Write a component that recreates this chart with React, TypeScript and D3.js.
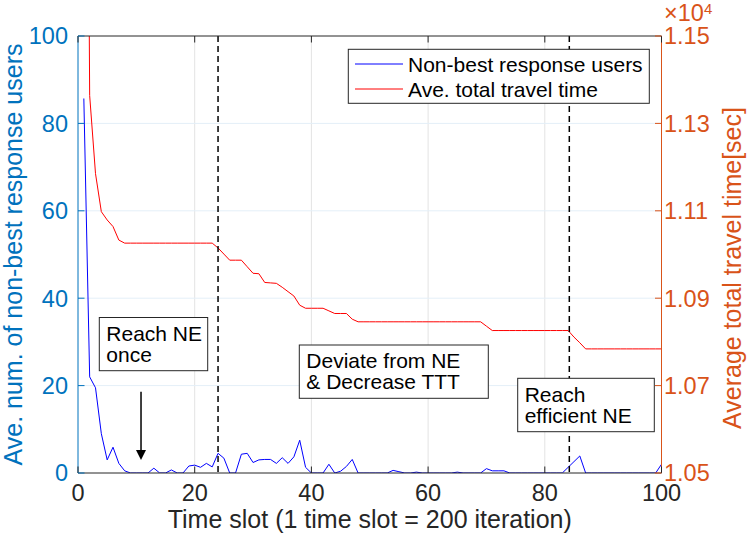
import React from 'react';
import * as d3 from 'd3';

// ---------- data ----------
const timeSlots: number[] = d3.range(1, 101);

const nonBestUsers: number[] = [
  85.7, 22.0, 19.5, 9.0, 3.0, 5.9, 2.2, 0.5, 0, 0,
  0, 0, 1.1, 0, 0, 0.7, 0, 0, 1.6, 1.8,
  1.3, 2.2, 1.4, 4.5, 3.4, 0, 0, 4.3, 4.5, 2.4,
  3.0, 3.1, 3.1, 2.2, 3.5, 2.2, 3.7, 7.5, 1.3, 0,
  0, 0, 2.0, 0, 0.4, 1.5, 3.1, 0, 0, 0,
  0, 0, 0, 0.6, 0.3, 0, 0, 0.2, 0, 0,
  0, 0, 0, 0, 0.2, 0, 0, 0, 0, 1.0,
  0.5, 0.5, 0.5, 0, 0, 0, 0, 0, 0, 0,
  0, 0, 0, 1.3, 2.6, 3.9, 0, 0, 0, 0,
  0, 0, 0, 0, 0, 0, 0, 0, 0, 2.0,
];

const aveTravelTime: number[] = [
  13500, 11364, 11185, 11098, 11079, 11064, 11033, 11026, 11026, 11026,
  11026, 11026, 11026, 11026, 11026, 11026, 11026, 11026, 11026, 11026,
  11026, 11026, 11026, 11015, 11001, 10987, 10987, 10987, 10972, 10957,
  10956, 10936, 10935, 10934, 10925, 10915, 10905, 10884, 10877, 10877,
  10877, 10877, 10871, 10865, 10865, 10865, 10852, 10846, 10846, 10846,
  10846, 10846, 10846, 10846, 10846, 10846, 10846, 10846, 10846, 10846,
  10846, 10846, 10846, 10846, 10846, 10846, 10846, 10846, 10846, 10836,
  10826, 10826, 10826, 10826, 10826, 10826, 10826, 10826, 10826, 10826,
  10826, 10826, 10826, 10826, 10811, 10798, 10784, 10784, 10784, 10784,
  10784, 10784, 10784, 10784, 10784, 10784, 10784, 10784, 10784, 10784,
];

const xTicks = [0, 20, 40, 60, 80, 100];
const leftTicks = [0, 20, 40, 60, 80, 100];
const rightTicks = [10500, 10700, 10900, 11100, 11300, 11500];
const rightTickLabels = ['1.05', '1.07', '1.09', '1.11', '1.13', '1.15'];
const markerSlots = [24, 84.2];

const legendLabels = ['Non-best response users', 'Ave. total travel time'];
const xLabel = 'Time slot (1 time slot = 200 iteration)';
const leftLabel = 'Ave. num. of non-best response users';
const rightLabel = 'Average total travel time[sec]';

// ---------- layout ----------
const W = 747;
const H = 540;
const L = 78, R = 661.5, T = 36, B = 473;
const FONT = '"Liberation Sans", Arial, Helvetica, sans-serif';
const BLUE_AX = '#0072BD';
const ORANGE_AX = '#D95319';
const DARK = '#262626';
const TICK = 6.5;
const TICK_FS = 23.5;
const LABEL_FS = 25;

export default function App() {
  const x = d3.scaleLinear().domain([0, 100]).range([L, R]);
  const yL = d3.scaleLinear().domain([0, 100]).range([B, T]);
  const yR = d3.scaleLinear().domain([10500, 11500]).range([B, T]);

  const blueLine = d3.line<number>().x((_, i) => x(timeSlots[i])).y((d) => yL(d))(nonBestUsers) || '';
  const redLine = d3.line<number>().x((_, i) => x(timeSlots[i])).y((d) => yR(d))(aveTravelTime) || '';

  const arrowX = x(10.8);
  const arrowTop = yL(18.6);
  const arrowTip = yL(3.0);

  const boxes = [
    { x0: 99.3, y0: 317.5, x1: 207.7, y1: 370.7, lines: ['Reach NE', 'once'] },
    { x0: 299.3, y0: 345, x1: 488.3, y1: 398.3, lines: ['Deviate from NE', '& Decrease TTT'] },
    { x0: 517.7, y0: 378.3, x1: 654.3, y1: 431.7, lines: ['Reach', 'efficient NE'] },
  ];

  return (
    <svg width={W} height={H} style={{ position: 'absolute', left: 0, top: 0, background: '#fff' }} fontFamily={FONT}>
      <rect x={0} y={0} width={W} height={H} fill="#fff" />
      <defs>
        <clipPath id="plotClip">
          <rect x={L} y={T} width={R - L} height={B - T} />
        </clipPath>
      </defs>

      {/* grid */}
      {xTicks.filter((t) => t > 0 && t < 100).map((t) => (
        <line key={'gx' + t} x1={x(t)} x2={x(t)} y1={T} y2={B} stroke="#E3E3E3" strokeWidth={1} />
      ))}
      {leftTicks.filter((t) => t > 0 && t < 100).map((t) => (
        <line key={'gy' + t} x1={L} x2={R} y1={yL(t)} y2={yL(t)} stroke="#E4EFF8" strokeWidth={1} />
      ))}

      {/* data */}
      <g clipPath="url(#plotClip)">
        <path d={blueLine} fill="none" stroke="#0000FF" strokeWidth={1} />
        <path d={redLine} fill="none" stroke="#FF0000" strokeWidth={1} />
      </g>

      {/* dashed markers */}
      {markerSlots.map((m) => (
        <line key={'m' + m} x1={x(m)} x2={x(m)} y1={T} y2={B} stroke="#000" strokeWidth={1.5} strokeDasharray="6,4" />
      ))}

      {/* axes frame */}
      <line x1={L} x2={R} y1={T} y2={T} stroke={DARK} strokeWidth={1} />
      <line x1={L} x2={R} y1={B} y2={B} stroke={DARK} strokeWidth={1} />
      <line x1={L} x2={L} y1={T} y2={B} stroke={BLUE_AX} strokeWidth={1} />
      <line x1={R} x2={R} y1={T} y2={B} stroke={ORANGE_AX} strokeWidth={1} />

      {/* x ticks */}
      {xTicks.map((t) => (
        <g key={'xt' + t}>
          <line x1={x(t)} x2={x(t)} y1={B} y2={B - TICK} stroke={DARK} />
          <line x1={x(t)} x2={x(t)} y1={T} y2={T + TICK} stroke={DARK} />
          <text x={x(t)} y={500.5} textAnchor="middle" fontSize={TICK_FS} fill={DARK}>{t}</text>
        </g>
      ))}

      {/* left ticks */}
      {leftTicks.map((t) => (
        <g key={'yl' + t}>
          <line x1={L} x2={L + TICK} y1={yL(t)} y2={yL(t)} stroke={BLUE_AX} />
          <text x={68} y={yL(t)} dy="0.36em" textAnchor="end" fontSize={TICK_FS} fill={BLUE_AX}>{t}</text>
        </g>
      ))}

      {/* right ticks */}
      {rightTicks.map((t, i) => (
        <g key={'yr' + t}>
          <line x1={R} x2={R - TICK} y1={yR(t)} y2={yR(t)} stroke={ORANGE_AX} />
          <text x={664} y={yR(t)} dy="0.36em" textAnchor="start" fontSize={TICK_FS} fill={ORANGE_AX}>{rightTickLabels[i]}</text>
        </g>
      ))}
      <text x={664} y={21} fontSize={TICK_FS} fill={ORANGE_AX}>
        ×10<tspan dy={-7} fontSize={15}>4</tspan>
      </text>

      {/* axis labels */}
      <text x={(L + R) / 2} y={528} textAnchor="middle" fontSize={LABEL_FS} fill={DARK}>{xLabel}</text>
      <text transform={`translate(22,${(T + B) / 2}) rotate(-90)`} textAnchor="middle" fontSize={LABEL_FS} fill={BLUE_AX}>{leftLabel}</text>
      <text transform={`translate(741,268) rotate(-90)`} textAnchor="middle" fontSize={LABEL_FS} fill={ORANGE_AX}>{rightLabel}</text>

      {/* legend */}
      <rect x={348.3} y={49.3} width={301} height={54} fill="#fff" stroke={DARK} strokeWidth={1} />
      <line x1={355} x2={403} y1={64} y2={64} stroke="#0000FF" strokeWidth={1} />
      <line x1={355} x2={403} y1={89} y2={89} stroke="#FF0000" strokeWidth={1} />
      <text x={408} y={64} dy="0.36em" fontSize={21} fill="#000">{legendLabels[0]}</text>
      <text x={408} y={89} dy="0.36em" fontSize={21} fill="#000">{legendLabels[1]}</text>

      {/* annotation boxes */}
      {boxes.map((b, i) => (
        <g key={'b' + i}>
          <rect x={b.x0} y={b.y0} width={b.x1 - b.x0} height={b.y1 - b.y0} fill="#fff" stroke={DARK} strokeWidth={1} />
          {b.lines.map((ln, j) => (
            <text key={j} x={b.x0 + 7} y={b.y1 - 9 - (b.lines.length - 1 - j) * 21} fontSize={21} fill="#000">{ln}</text>
          ))}
        </g>
      ))}

      {/* arrow */}
      <line x1={arrowX} x2={arrowX} y1={arrowTop} y2={arrowTip - 9} stroke="#000" strokeWidth={1.5} />
      <path d={`M${arrowX - 5},${arrowTip - 10} L${arrowX + 5},${arrowTip - 10} L${arrowX},${arrowTip} Z`} fill="#000" />
    </svg>
  );
}
